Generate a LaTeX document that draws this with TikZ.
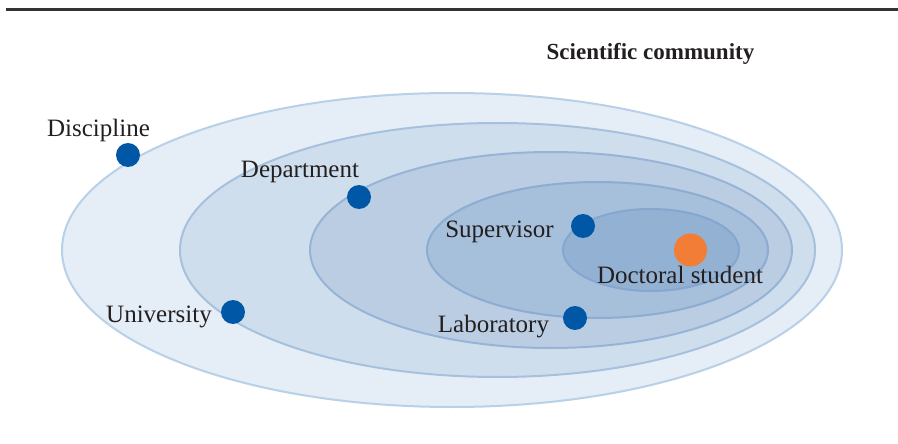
\documentclass[tikz,border=0pt]{standalone}
\usepackage{fontspec}
\setmainfont{Liberation Serif}
\definecolor{fillA}{HTML}{E5EEF7}
\definecolor{fillB}{HTML}{CFDEED}
\definecolor{fillC}{HTML}{BACDE3}
\definecolor{fillD}{HTML}{A6BFDA}
\definecolor{fillE}{HTML}{93B1D2}
\definecolor{lineA}{HTML}{B8D0E8}
\definecolor{lineB}{HTML}{A6C1DE}
\definecolor{lineC}{HTML}{97B4D7}
\definecolor{lineD}{HTML}{8CACD2}
\definecolor{lineE}{HTML}{85A6CE}
\definecolor{dotblue}{HTML}{0057A6}
\definecolor{dotorange}{HTML}{F27D36}
\definecolor{txt}{HTML}{231F20}
\definecolor{rulegray}{HTML}{333333}
\tikzset{
  ring/.style={line width=2pt},
  bluedot/.style={circle, fill=dotblue, inner sep=0pt, minimum size=24pt},
  orangedot/.style={circle, fill=dotorange, inner sep=0pt, minimum size=33pt},
  lbl/.style={anchor=base, inner sep=0pt, text=txt, font=\fontsize{25}{30}\selectfont},
  ttl/.style={anchor=base, inner sep=0pt, text=txt, font=\fontsize{23}{28}\selectfont\bfseries}
}
\begin{document}
\begin{tikzpicture}[x=1pt,y=-1pt]
\useasboundingbox (0,0) rectangle (898,444);
\fill[white] (0,0) rectangle (898,444);
\draw[rulegray, line width=3pt] (6,9.5) -- (898,9.5);
\node[ttl] (title) at (650.5,60) {Scientific community};
% rings
\draw[ring, fill=fillA, draw=lineA] (452,250) ellipse [x radius=390, y radius=157];
\draw[ring, fill=fillB, draw=lineB] (497.5,250) ellipse [x radius=317.5, y radius=127];
\draw[ring, fill=fillC, draw=lineC] (551,250) ellipse [x radius=241, y radius=98];
\draw[ring, fill=fillD, draw=lineD] (597.5,250) ellipse [x radius=170.5, y radius=68];
\draw[ring, fill=fillE, draw=lineE] (651,250) ellipse [x radius=88, y radius=41];
% dots
\node[bluedot] (discdot) at (128,155) {};
\node[bluedot] (deptdot) at (359,197) {};
\node[bluedot] (unidot) at (233,312) {};
\node[bluedot] (supdot) at (583,226) {};
\node[bluedot] (labdot) at (575,318) {};
\node[orangedot] (docdot) at (690.5,250) {};
% labels
\node[lbl] (disc) at (98.5,136) {Discipline};
\node[lbl] (dept) at (300,177) {Department};
\node[lbl] (uni) at (159,322) {University};
\node[lbl] (sup) at (499.5,237) {Supervisor};
\node[lbl] (lab) at (493.5,332) {Laboratory};
\node[lbl] (doc) at (680,283) {Doctoral student};
\end{tikzpicture}
\end{document}
